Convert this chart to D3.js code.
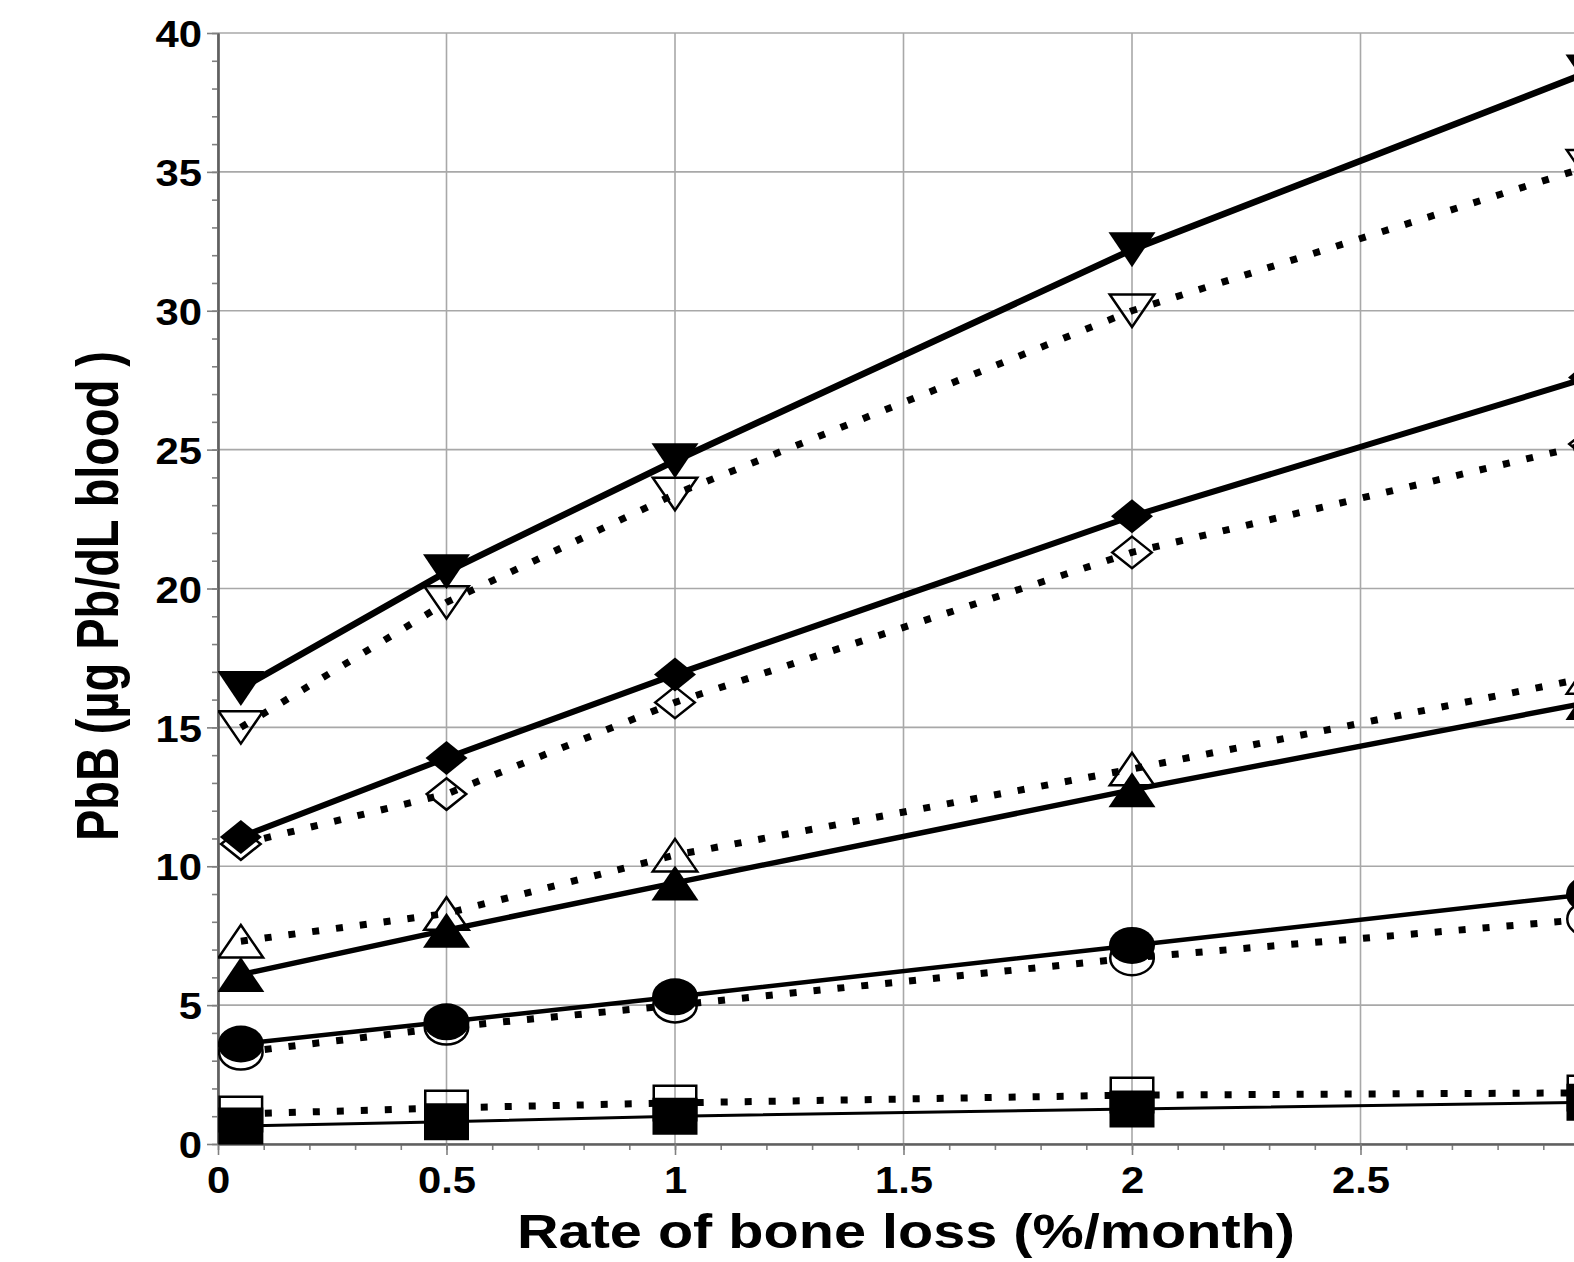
<!DOCTYPE html>
<html>
<head>
<meta charset="utf-8">
<script src="https://cdn.jsdelivr.net/npm/d3@7"></script>
<style>
  body { margin: 0; background: #fff; }
  text { font-family: "Liberation Sans", Arial, sans-serif; font-weight: bold; fill: #000; }
</style>
</head>
<body>
<div id="chart"></div>
<script>
// Data (PbB, ug/dL, vs rate of bone loss, %/month)
const boneLoss = [0.05, 0.5, 1, 2, 3];
const filledDown = [16.4, 20.6, 24.6, 32.2, 38.6];
const openDown = [15.0, 19.5, 23.4, 30.0, 35.2];
const filledDiamond = [11.05, 13.9, 16.9, 22.6, 27.6];
const openDiamond = [10.8, 12.6, 15.9, 21.3, 25.2];
const openUp = [7.3, 8.3, 10.4, 13.5, 16.8];
const filledUp = [6.1, 7.7, 9.4, 12.75, 15.9];
const filledCircle = [3.6, 4.4, 5.3, 7.15, 9.0];
const openCircle = [3.3, 4.2, 5.0, 6.7, 8.1];
const filledSquare = [0.65, 0.8, 1.0, 1.26, 1.5];
const openSquare = [1.08, 1.3, 1.48, 1.76, 1.84];

const xTicks = [0, 0.5, 1, 1.5, 2, 2.5, 3];
const xTickLabels = ['0', '0.5', '1', '1.5', '2', '2.5', '']; // 3 falls off the right edge
const yTicks = [0, 5, 10, 15, 20, 25, 30, 35, 40];
const xTitle = 'Rate of bone loss (%/month)';
const yTitle = 'PbB (µg Pb/dL blood )';

const series = [
  {values: openDown, shape: 'down', filled: false, width: 7},
  {values: openDiamond, shape: 'diamond', filled: false, width: 7},
  {values: openUp, shape: 'up', filled: false, width: 7},
  {values: openCircle, shape: 'circle', filled: false, width: 7},
  {values: openSquare, shape: 'square', filled: false, width: 7},
  {values: filledDown, shape: 'down', filled: true, width: 6.5},
  {values: filledDiamond, shape: 'diamond', filled: true, width: 6},
  {values: filledUp, shape: 'up', filled: true, width: 5.5},
  {values: filledCircle, shape: 'circle', filled: true, width: 4.5},
  {values: filledSquare, shape: 'square', filled: true, width: 3},
];

// Layout
const width = 1574, height = 1262;
const plotLeft = 218, plotTop = 33, plotBottom = 1144;

const svg = d3.select('#chart').append('svg')
  .attr('width', width).attr('height', height);

const x = d3.scaleLinear().domain([0, 3]).range([plotLeft, plotLeft + 3 * 457]);
const y = d3.scaleLinear().domain([0, 40]).range([plotBottom, plotTop]);

// markers are a bit wider than tall in the picture
function markerPath(shape, filled) {
  const s = filled ? 0 : 2.5;
  let w, h;
  if (shape === 'square') { w = 45 - s; h = 37 - s; return `M${-w/2},${-h/2}h${w}v${h}h${-w}Z`; }
  if (shape === 'circle') { const rx = (46 - s) / 2, ry = (37 - s) / 2;
    return `M${-rx},0A${rx},${ry} 0 1 0 ${rx},0A${rx},${ry} 0 1 0 ${-rx},0Z`; }
  if (shape === 'diamond') { w = 42 - s; h = 34 - s; return `M0,${-h/2}L${w/2},0L0,${h/2}L${-w/2},0Z`; }
  w = 47 - s; h = 35 - s;
  if (shape === 'up') return `M0,${-h/2}L${w/2},${h/2}L${-w/2},${h/2}Z`;
  return `M0,${h/2}L${w/2},${-h/2}L${-w/2},${-h/2}Z`;
}

// gridlines
const grid = svg.append('g');
grid.selectAll('.gx').data(xTicks).join('line')
  .attr('x1', d => x(d)).attr('x2', d => x(d)).attr('y1', plotTop).attr('y2', plotBottom)
  .attr('stroke', '#a8a8a8').attr('stroke-width', 1.6);
grid.selectAll('.gy').data(yTicks).join('line')
  .attr('x1', plotLeft).attr('x2', width).attr('y1', d => y(d)).attr('y2', d => y(d))
  .attr('stroke', '#a8a8a8').attr('stroke-width', 1.6);

// axes: minor ticks, then major with labels
const xMinor = d3.range(0, 31).map(d => d / 10);
const yMinor = d3.range(0, 41);
svg.append('g').attr('transform', `translate(0,${plotBottom})`)
  .call(d3.axisBottom(x).tickValues(xMinor).tickSize(6).tickSizeOuter(0).tickFormat(''));
svg.append('g').attr('transform', `translate(${plotLeft},0)`)
  .call(d3.axisLeft(y).tickValues(yMinor).tickSize(6).tickSizeOuter(0).tickFormat(''));

const gx = svg.append('g').attr('transform', `translate(0,${plotBottom})`)
  .call(d3.axisBottom(x).tickValues(xTicks).tickSize(11).tickSizeOuter(0)
    .tickFormat((d, i) => xTickLabels[i]));
const gy = svg.append('g').attr('transform', `translate(${plotLeft},0)`)
  .call(d3.axisLeft(y).tickValues(yTicks).tickSize(11).tickSizeOuter(0));

svg.selectAll('.tick line').attr('stroke', '#808080').attr('stroke-width', 1.6);
svg.selectAll('.domain').attr('stroke', '#606060').attr('stroke-width', 2.2);

const labelScale = 1.13;
gx.selectAll('text').attr('font-size', 37).attr('y', 23).attr('dy', '0.71em')
  .attr('transform', `scale(${labelScale},1)`).attr('x', 0);
gy.selectAll('text').attr('font-size', 37).attr('x', -16 / labelScale).attr('dy', '0.37em')
  .attr('transform', `scale(${labelScale},1)`);
svg.selectAll('g').attr('font-family', null);

// plot contents
svg.append('clipPath').attr('id', 'plot')
  .append('rect').attr('x', plotLeft).attr('y', 0).attr('width', width).attr('height', plotBottom + 4);
const plot = svg.append('g').attr('clip-path', 'url(#plot)');

const line = d3.line().x((d, i) => x(boneLoss[i])).y(d => y(d));

// open markers first
series.filter(s => !s.filled).forEach(s => {
  plot.append('g').selectAll('path').data(s.values).join('path')
    .attr('transform', (d, i) => `translate(${x(boneLoss[i])},${y(d)})`)
    .attr('d', markerPath(s.shape, false))
    .attr('fill', 'none').attr('stroke', '#000').attr('stroke-width', 2.5);
});

series.forEach(s => {
  plot.append('path').datum(s.values)
    .attr('d', line)
    .attr('fill', 'none').attr('stroke', '#000')
    .attr('stroke-width', s.width)
    .attr('stroke-dasharray', s.filled ? null : '7,17')
    .attr('stroke-linejoin', 'round');
});

series.filter(s => s.filled).forEach(s => {
  plot.append('g').selectAll('path').data(s.values).join('path')
    .attr('transform', (d, i) => `translate(${x(boneLoss[i])},${y(d)})`)
    .attr('d', markerPath(s.shape, true))
    .attr('fill', '#000');
});

// titles
svg.append('text')
  .attr('x', 906).attr('y', 1248)
  .attr('text-anchor', 'middle').attr('font-size', 49)
  .attr('textLength', 778).attr('lengthAdjust', 'spacingAndGlyphs')
  .text(xTitle);

svg.append('text')
  .attr('transform', 'translate(118,596) rotate(-90)')
  .attr('text-anchor', 'middle').attr('font-size', 60)
  .attr('textLength', 490).attr('lengthAdjust', 'spacingAndGlyphs')
  .text(yTitle);
</script>
</body>
</html>
